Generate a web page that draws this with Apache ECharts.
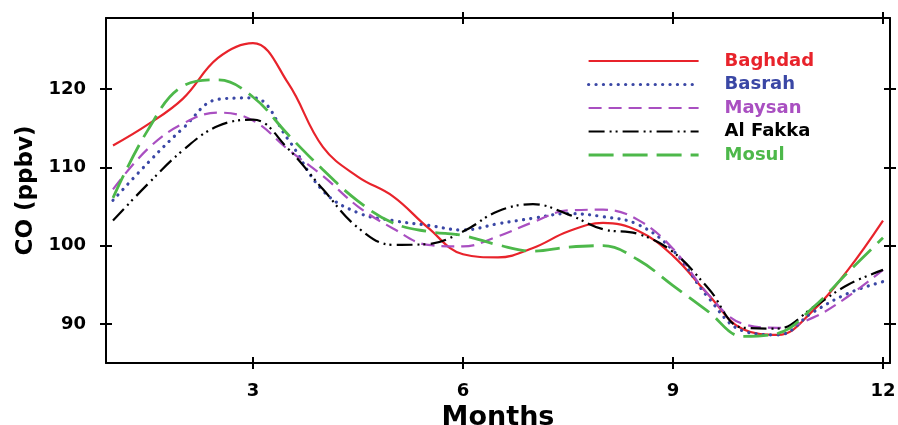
<!DOCTYPE html>
<html>
<head>
<meta charset="utf-8">
<script src="https://cdn.jsdelivr.net/npm/echarts@6/dist/echarts.min.js"></script>
<style>
html,body{margin:0;padding:0;background:#fff;}
#main{width:898px;height:425px;}
</style>
</head>
<body>
<div id="main"></div>
<script>
// monthly CO (ppbv), read every half month off the figure
var months = [1, 1.5, 2, 2.5, 3, 3.5, 4, 4.5, 5, 5.5, 6, 6.5, 7, 7.5, 8, 8.5, 9, 9.5, 10, 10.5, 11, 11.5, 12];
var baghdad = [112.8, 115.5, 118.8, 124.0, 125.9, 120.8, 112.6, 108.8, 106.3, 102.3, 98.9, 98.5, 99.7, 101.8, 102.9, 101.9, 98.7, 93.8, 89.3, 88.6, 91.7, 96.9, 103.2];
var basrah = [105.8, 110.6, 115.0, 118.7, 118.9, 113.6, 107.0, 104.2, 103.2, 102.6, 102.0, 102.8, 103.5, 104.1, 103.7, 102.7, 99.4, 93.4, 89.1, 88.6, 91.5, 93.9, 95.4];
var maysan = [107.2, 112.4, 115.6, 117.0, 116.0, 112.3, 108.9, 105.0, 102.2, 100.1, 99.9, 101.2, 103.0, 104.5, 104.6, 103.3, 99.6, 93.8, 90.0, 89.5, 90.8, 93.5, 96.9];
var alFakka = [103.2, 107.9, 112.2, 115.3, 116.1, 112.4, 107.2, 102.3, 100.1, 100.2, 101.8, 104.4, 105.3, 104.0, 102.1, 101.5, 99.2, 94.6, 89.5, 89.4, 92.1, 95.0, 96.9];
var mosul = [106.1, 114.8, 120.4, 121.2, 119.0, 114.2, 109.7, 105.7, 102.9, 101.8, 101.3, 100.1, 99.3, 99.8, 100.0, 98.2, 94.9, 91.6, 88.4, 88.8, 92.1, 96.6, 101.0];

var xTicks = [3, 6, 9, 12];
var yTicks = [90, 100, 110, 120];

var FONT = 'DejaVu Sans';

function pairs(vals) {
    return months.map(function (m, i) { return [m, vals[i]]; });
}

function xAx(pos, inside, labels) {
    return {
        type: 'value', position: pos, min: 0.9, max: 12.1,
        axisLine: { show: !inside, onZero: false, lineStyle: { color: '#000', width: 2 } },
        axisTick: { show: true, inside: inside, length: 6, lineStyle: { color: '#000', width: 2 }, customValues: xTicks },
        axisLabel: { show: labels, customValues: xTicks, margin: 19, color: '#000', fontFamily: FONT, fontWeight: 'bold', fontSize: 18 },
        splitLine: { show: false }
    };
}
function yAx(pos, inside, labels) {
    return {
        type: 'value', position: pos, min: 85, max: 129.1,
        axisLine: { show: !inside, onZero: false, lineStyle: { color: '#000', width: 2 } },
        axisTick: { show: true, inside: inside, length: 6, lineStyle: { color: '#000', width: 2 }, customValues: yTicks },
        axisLabel: { show: labels, customValues: yTicks, margin: 20, color: '#000', fontFamily: FONT, fontWeight: 'bold', fontSize: 18 },
        splitLine: { show: false }
    };
}

var xMain = xAx('bottom', false, true);
xMain.name = 'Months';
xMain.nameLocation = 'middle';
xMain.nameGap = 36;
xMain.nameTextStyle = { color: '#000', fontFamily: FONT, fontWeight: 'bold', fontSize: 27 };
var yMain = yAx('left', false, true);
yMain.name = 'CO (ppbv)';
yMain.nameLocation = 'middle';
yMain.nameGap = 55;
yMain.nameTextStyle = { color: '#000', fontFamily: FONT, fontWeight: 'bold', fontSize: 23 };

function line(name, vals, color, width, type, cap) {
    return {
        name: name, type: 'line', data: pairs(vals), smooth: 0.4,
        showSymbol: false, symbol: 'none', xAxisIndex: 0, yAxisIndex: 0,
        lineStyle: { color: color, width: width, type: type, cap: cap || 'butt' },
        itemStyle: { color: color }
    };
}

var series = [
    line('Baghdad', baghdad, '#e8232b', 2.2, 'solid'),
    line('Basrah', basrah, '#3a47a5', 3.2, [0.1, 7.3], 'round'),
    line('Maysan', maysan, '#a94fc1', 2.2, [13, 7]),
    line('Al Fakka', alFakka, '#000000', 2.2, [16, 5, 2, 4, 2, 5]),
    line('Mosul', mosul, '#4db84a', 2.8, [25, 9])
];

var chart = echarts.init(document.getElementById('main'));
chart.setOption({
    animation: false,
    grid: { left: 106, right: 8, top: 18, bottom: 62, containLabel: false, outerBoundsMode: 'none' },
    xAxis: [xMain, xAx('bottom', true, false), xAx('top', false, false), xAx('top', true, false)],
    yAxis: [yMain, yAx('left', true, false), yAx('right', false, false), yAx('right', true, false)],
    legend: {
        orient: 'vertical', left: 587, top: 52, padding: 0,
        itemWidth: 110, itemHeight: 14, itemGap: 5.5,
        itemStyle: { opacity: 0 },
        lineStyle: { width: 'inherit' },
        textStyle: { fontFamily: FONT, fontWeight: 'bold', fontSize: 18, padding: [0, 0, 0, 21] },
        data: [
            { name: 'Baghdad', textStyle: { color: '#e8232b' } },
            { name: 'Basrah', textStyle: { color: '#3a47a5' }, lineStyle: { width: 3.2, type: [0.1, 7.3], cap: 'round' } },
            { name: 'Maysan', textStyle: { color: '#a94fc1' } },
            { name: 'Al Fakka', textStyle: { color: '#000000' } },
            { name: 'Mosul', textStyle: { color: '#4db84a' } }
        ]
    },
    series: series
});
</script>
</body>
</html>
